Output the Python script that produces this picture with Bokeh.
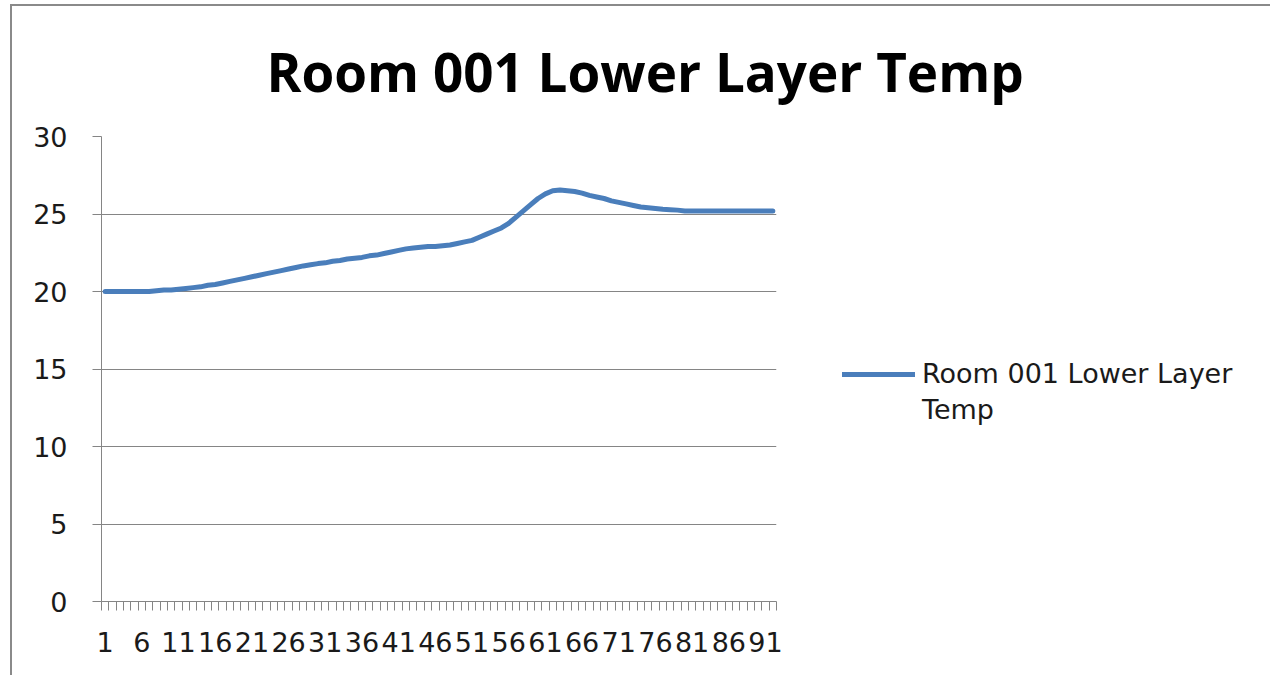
from bokeh.plotting import figure
from bokeh.models import Range1d, FixedTicker, Legend, LegendItem
from bokeh.embed import file_html
from bokeh.resources import INLINE

# Sample index (1..92) and lower-layer temperature readings
samples = list(range(1, 93))
temps = [
    20.0, 20.0, 20.0, 20.0, 20.0, 20.0, 20.0, 20.05, 20.1, 20.1,
    20.15, 20.2, 20.25, 20.3, 20.4, 20.45, 20.55, 20.65, 20.75, 20.85,
    20.95, 21.05, 21.15, 21.25, 21.35, 21.45, 21.55, 21.65, 21.72, 21.8,
    21.85, 21.95, 22.0, 22.1, 22.15, 22.2, 22.3, 22.35, 22.45, 22.55,
    22.65, 22.75, 22.8, 22.85, 22.9, 22.9, 22.95, 23.0, 23.1, 23.2,
    23.3, 23.5, 23.7, 23.9, 24.1, 24.4, 24.8, 25.2, 25.6, 26.0,
    26.3, 26.5, 26.55, 26.5, 26.45, 26.35, 26.2, 26.1, 26.0, 25.85,
    25.75, 25.65, 25.55, 25.45, 25.4, 25.35, 25.3, 25.28, 25.25, 25.2,
    25.2, 25.2, 25.2, 25.2, 25.2, 25.2, 25.2, 25.2, 25.2, 25.2,
    25.2, 25.2,
]
x_labels = samples[::5]
y_ticks = [0, 5, 10, 15, 20, 25, 30]
series_lines = ["Room 001 Lower Layer", "Temp"]
title_text = "Room 001 Lower Layer Temp"

GRID = "#858585"
BLUE = "#4a7ebb"
FONT = "DejaVu Sans"

p = figure(
    output_backend="svg", toolbar_location=None,
    frame_width=675, frame_height=465,
    x_range=Range1d(0.5, len(samples) + 0.5),
    y_range=Range1d(y_ticks[0], y_ticks[-1]),
    min_border_left=89, min_border_top=130,
    min_border_right=494, min_border_bottom=74,
    background_fill_color="white", border_fill_color="white",
    outline_line_color=None,
)
p.styles = {
    "margin-left": "10px", "margin-top": "4px",
    "border-left": "2px solid #8a8a8a", "border-top": "2px solid #8a8a8a",
}

r = p.line(samples, temps, line_color=BLUE, line_width=5,
           line_join="round", line_cap="round")
# blank swatch so the wrapped second line of the legend label lines up
wrap = p.line([], [], line_alpha=0)

# Title
p.title.text = title_text
p.title.text_font = "Open Sans"
p.title.text_font_style = "bold"
p.title.text_font_size = "53px"
p.title.text_color = "#000000"
p.title.align = "left"
p.title.offset = 165
p.title.standoff = 54
p.title.vertical_align = "top"

# X axis: labels every 5th sample, small ticks between samples
xa = p.xaxis[0]
xa.ticker = FixedTicker(ticks=x_labels,
                        minor_ticks=[s + 0.5 for s in [0] + samples])
xa.major_tick_out = 0
xa.major_tick_in = 0
xa.minor_tick_out = 9
xa.minor_tick_in = 0
xa.minor_tick_line_color = GRID
xa.axis_line_color = GRID
xa.major_label_text_font = FONT
xa.major_label_text_font_size = "27px"
xa.major_label_text_color = "#1a1a1a"
xa.major_label_standoff = 21

# Y axis
ya = p.yaxis[0]
ya.ticker = FixedTicker(ticks=y_ticks)
ya.major_tick_out = 9
ya.major_tick_in = 0
ya.minor_tick_out = 0
ya.minor_tick_in = 0
ya.major_tick_line_color = GRID
ya.axis_line_color = GRID
ya.major_label_text_font = FONT
ya.major_label_text_font_size = "27px"
ya.major_label_text_color = "#1a1a1a"
ya.major_label_standoff = 25

p.xgrid.grid_line_color = None
p.ygrid.grid_line_color = GRID
p.ygrid.ticker = FixedTicker(ticks=y_ticks)

legend = Legend(items=[LegendItem(label=series_lines[0], renderers=[r]),
                       LegendItem(label=series_lines[1], renderers=[wrap])],
                location=(66, 176), orientation="vertical")
legend.glyph_width = 73
legend.glyph_height = 30
legend.label_height = 30
legend.label_standoff = 7
legend.padding = 0
legend.margin = 0
legend.spacing = 5
legend.border_line_color = None
legend.background_fill_alpha = 0
legend.label_text_font = FONT
legend.label_text_font_size = "27px"
legend.label_text_color = "#1a1a1a"
p.add_layout(legend, "right")

open("out.html", "w").write(file_html(p, INLINE))
